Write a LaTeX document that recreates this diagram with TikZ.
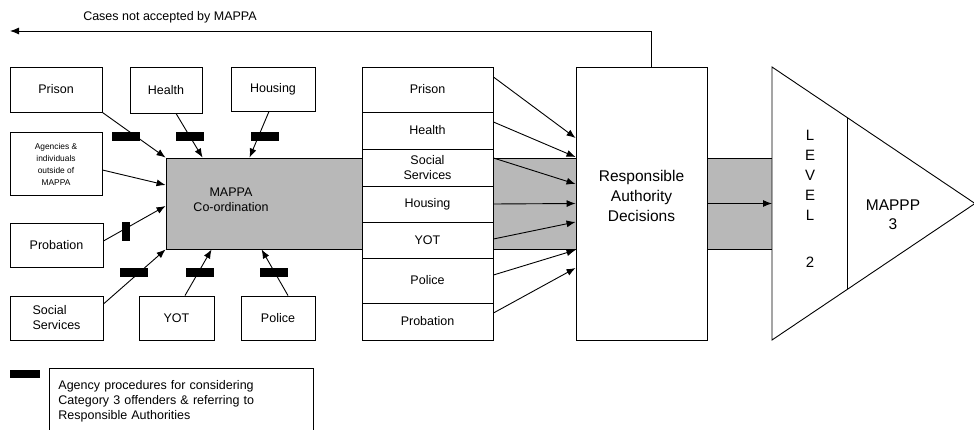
\documentclass[tikz,border=0pt]{standalone}
\usepackage{fontspec}
\setmainfont{Liberation Sans}
\usetikzlibrary{arrows.meta,calc}
\usetikzlibrary{positioning}

\begin{document}
\begin{tikzpicture}[x=1pt,y=-1pt,line width=0.9pt,
		txt/.style={font=\fontsize{12.5}{15}\selectfont},
		agency/.style={txt,draw,fill=white,inner sep=1pt,align=center},
		row/.style={agency,minimum width=\colw},
		proc/.style={fill=black,inner sep=0pt,minimum width=28pt,minimum height=9pt},
		band/.style={draw,fill=black!28},
		arr/.style={-{Latex[length=9pt,width=7pt]}}]
		\def\colw{131pt}
		\def\bigf{\fontsize{15.5}{20}\selectfont}
		\useasboundingbox (0,0) rectangle (974,430);
		\clip (0,0) rectangle (974,430);
		% cases sent back
		\node[txt] (notacc) at (170,17) {Cases not accepted by MAPPA};
		\coordinate (back) at (10,31);
		% grey band
		\draw[band] (362,158) rectangle (772,249);
		\node[band,minimum width=196pt,minimum height=91pt] (mappa) at (264,203.5) {};
		\node[txt,align=center] (mappatxt) at (231,200) {MAPPA\\Co-ordination};
		% agencies
		\node[agency,minimum width=92pt,minimum height=45pt] (prison) at (56,89.5) {Prison};
		\node[agency,minimum width=72pt,minimum height=46pt] (health) at (166,90) {Health};
		\node[agency,minimum width=84pt,minimum height=44pt] (housing) at (273,89) {Housing};
		\node[agency,minimum width=92pt,minimum height=63pt,font=\fontsize{8.4}{12}\selectfont] (outside) at (56,164) {Agencies \&\\individuals\\outside of\\MAPPA};
		\node[agency,minimum width=93pt,minimum height=44pt] (probation) at (56.5,245) {Probation};
		\node[agency,minimum width=93pt,minimum height=44pt,align=left] (social) at (56.5,318) {Social\\Services};
		\node[agency,minimum width=75pt,minimum height=44pt] (yot) at (176.5,318) {YOT};
		\node[agency,minimum width=74pt,minimum height=44pt] (police) at (278,318) {Police};
		% referrals to MAPPA
		\draw[arr] (prison.south east) -- (mappa.north west);
		\draw[arr] ([xshift=10pt]health.south) -- ([xshift=37pt]mappa.north west);
		\draw[arr] ([xshift=-4pt]housing.south) -- ([xshift=84pt]mappa.north west);
		\draw[arr] ([yshift=-6pt]outside.east) -- ([yshift=18.5pt]mappa.west);
		\draw[arr] ([yshift=4pt]probation.east) -- ([yshift=-2.5pt]mappa.west);
		\draw[arr] ([yshift=14pt]social.east) -- (mappa.south west);
		\draw[arr] ([xshift=8.5pt]yot.north) -- ([xshift=46pt]mappa.south west);
		\draw[arr] ([xshift=10pt]police.north) -- ([xshift=96pt]mappa.south west);
		% agency procedures
		\node[proc] (pPrison) at (125.5,136.5) {};
		\node[proc] (pHealth) at (190,136.5) {};
		\node[proc] (pHousing) at (264.5,136.5) {};
		\node[proc,minimum width=8pt,minimum height=19pt] (pProbation) at (126,231.5) {};
		\node[proc] (pSocial) at (134,272.5) {};
		\node[proc] (pYot) at (199.5,272.5) {};
		\node[proc] (pPolice) at (273.5,272.5) {};
		% responsible authorities
		\node[row,minimum height=45pt] (rPrison) at (427.5,89.5) {Prison};
		\node[row,minimum height=37pt] (rHealth) at (427.5,130.5) {Health};
		\node[row,minimum height=37pt] (rSocial) at (427.5,167.5) {Social\\Services};
		\node[row,minimum height=36pt] (rHousing) at (427.5,204) {Housing};
		\node[row,minimum height=36pt] (rYot) at (427.5,240) {YOT};
		\node[row,minimum height=45pt] (rPolice) at (427.5,280.5) {Police};
		\node[row,minimum height=37pt] (rProbation) at (427.5,321.5) {Probation};
		\node[draw,fill=white,minimum width=\colw,minimum height=273pt,
			label={[font=\bigf,align=center,yshift=8pt]center:Responsible\\Authority\\Decisions}] (ra) at (641.5,203.5) {};
		\foreach \n/\s/\e in {rPrison/12.5/65.5,rHealth/8.5/46.5,rSocial/9.5/19.5,rHousing/0/0,
			rYot/1/-18.5,rPolice/5.5/-46.5,rProbation/8.5/-64.5}
			\draw[arr] ([yshift=\s pt]\n.east) -- ([yshift=\e pt]ra.west);
		\draw[arr] ([xshift=9.5pt]ra.north) |- (back);
		% levels
		\coordinate (t1) at (772,67);
		\coordinate (t2) at (772,340);
		\coordinate (tip) at (975,203.5);
		\draw[fill=white] (t1) -- (tip) -- (t2) -- cycle;
		\draw ($(t1)!0.374!(tip)$) -- ($(t2)!0.374!(tip)$);
		\draw[arr] (ra.east) -- ($(t1)!0.5!(t2)$);
		\node[font=\fontsize{15}{20}\selectfont,align=center] (level) at (810,199) {L\\E\\V\\E\\L\\[27pt]2};
		\node[font=\fontsize{15.5}{19}\selectfont,align=center] (mappp) at (893,214.5) {MAPPP\\3};
		% key
		\node[fill=black,inner sep=0pt,minimum width=30pt,minimum height=8pt] (key) at (25,374) {};
		\node[txt,draw,anchor=north west,align=left,inner xsep=9pt,inner ysep=12pt,text width=246pt] (keytxt) at (49,368)
			{Agency procedures for considering\\Category 3 offenders \& referring to\\Responsible Authorities};
	\end{tikzpicture}
\end{document}
